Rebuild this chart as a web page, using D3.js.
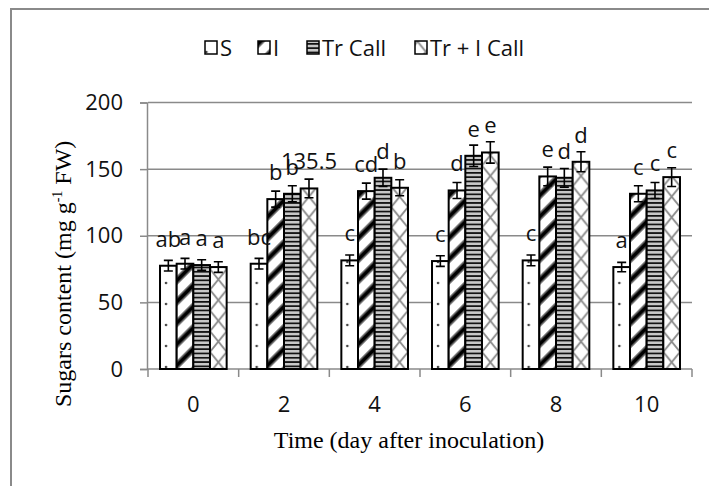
<!DOCTYPE html>
<html><head><meta charset="utf-8">
<script src="https://cdn.jsdelivr.net/npm/d3@7"></script>
<style>html,body{margin:0;padding:0;background:#fff;}</style>
</head><body>
<svg id="c" width="709" height="486"></svg>
<script>
const categories = ["0","2","4","6","8","10"];
const seriesNames = ["S","I","Tr Call","Tr + I Call"];
const valS   = [77.5, 79, 81.5, 81, 81.5, 76.5];
const valI   = [79, 127.5, 133.5, 134, 144.5, 131.5];
const valTr  = [78, 131.5, 143.5, 160, 143.5, 134];
const valTrI = [76.5, 135.5, 136, 162.5, 155.5, 144];
const errS   = [4, 4, 4, 4, 4, 3.5];
const errI   = [4, 6, 6, 6, 7, 6];
const errTr  = [4, 6, 6.5, 8, 7, 6];
const errTrI = [4, 7, 6, 8, 7.5, 7];
const labS   = ["ab","bc","c","c","c","a"];
const labI   = ["a","b","cd","d","e","c"];
const labTr  = ["a","b","d","e","d","c"];
const labTrI = ["a","135.5","b","e","d","c"];
const yTicks = [0,50,100,150,200];

const series = [
  {name: seriesNames[0], vals: valS, errs: errS, labs: labS, pat: "pS"},
  {name: seriesNames[1], vals: valI, errs: errI, labs: labI, pat: "pI"},
  {name: seriesNames[2], vals: valTr, errs: errTr, labs: labTr, pat: "pTr"},
  {name: seriesNames[3], vals: valTrI, errs: errTrI, labs: labTrI, pat: "pTrI"}
];

const svg = d3.select("#c");
const grey = "#8a8a8a";
const L = 148, R = 692, T = 102.5, B = 369;

// patterns
const defs = svg.append("defs");
const pS = defs.append("pattern").attr("id","pS").attr("patternUnits","userSpaceOnUse")
  .attr("width",16.7).attr("height",21);
pS.append("rect").attr("width",16.7).attr("height",21).attr("fill","#fff");
pS.append("circle").attr("cx",6).attr("cy",10).attr("r",1.3).attr("fill","#444");
const pI = defs.append("pattern").attr("id","pI").attr("patternUnits","userSpaceOnUse")
  .attr("width",15).attr("height",15).attr("patternTransform","rotate(45)");
pI.append("rect").attr("width",15).attr("height",15).attr("fill","#fff");
pI.append("rect").attr("x",0).attr("width",7).attr("height",15).attr("fill","#888");
pI.append("rect").attr("x",1.5).attr("width",4).attr("height",15).attr("fill","#000");
const pTr = defs.append("pattern").attr("id","pTr").attr("patternUnits","userSpaceOnUse")
  .attr("width",10).attr("height",4.3);
pTr.append("rect").attr("width",10).attr("height",4.3).attr("fill","#c8c8c8");
pTr.append("rect").attr("y",0).attr("width",10).attr("height",1.7).attr("fill","#111");
const pw = 16.7, ph = 20.7;
const pTrI = defs.append("pattern").attr("id","pTrI").attr("patternUnits","userSpaceOnUse")
  .attr("width",pw).attr("height",ph);
pTrI.append("rect").attr("width",pw).attr("height",ph).attr("fill","#fff");
pTrI.append("path").attr("d",`M0,0L${pw},${ph}M${pw},0L0,${ph}`)
  .attr("stroke","#8a8a8a").attr("stroke-width",1.8).attr("fill","none");

// outer frame
svg.append("rect").attr("x",11).attr("y",9).attr("width",720).attr("height",500)
  .attr("fill","none").attr("stroke",grey).attr("stroke-width",2);

const x0 = d3.scaleBand().domain(categories).range([L,R]).paddingInner(0.265).paddingOuter(0.1325);
const x1 = d3.scaleBand().domain(seriesNames).range([0,x0.bandwidth()]);
const y = d3.scaleLinear().domain([0,200]).range([B,T]);

// gridlines
svg.append("g").selectAll("line").data(yTicks.filter(d=>d>0)).join("line")
  .attr("x1",L).attr("x2",R).attr("y1",d=>y(d)).attr("y2",d=>y(d))
  .attr("stroke",grey).attr("stroke-width",1.5);

// y axis
const yAxis = svg.append("g").attr("transform",`translate(${L-1},0)`)
  .call(d3.axisLeft(y).tickValues(yTicks).tickSize(7).tickPadding(17));
yAxis.select(".domain").attr("stroke",grey).attr("stroke-width",1.5);
yAxis.selectAll(".tick line").attr("stroke",grey).attr("stroke-width",1.5);
yAxis.selectAll("text").attr("font-family","Open Sans").attr("font-size",22).attr("fill","#111");

// x axis: ticks at category boundaries
const bounds = d3.range(categories.length+1).map(i => L + i*x0.step());
const xg = svg.append("g");
xg.append("line").attr("x1",L).attr("x2",R).attr("y1",B).attr("y2",B)
  .attr("stroke",grey).attr("stroke-width",1.5);
xg.selectAll("line.t").data(bounds).join("line").attr("class","t")
  .attr("x1",d=>d).attr("x2",d=>d).attr("y1",B).attr("y2",B+8)
  .attr("stroke",grey).attr("stroke-width",1.5);
xg.selectAll("text").data(categories).join("text")
  .attr("x",d=>x0(d)+x0.bandwidth()/2).attr("y",412)
  .attr("text-anchor","middle").attr("font-family","Open Sans").attr("font-size",22).attr("fill","#111")
  .text(d=>d);

// bars
const bw = x1.bandwidth();
series.forEach(s => {
  const g = svg.append("g");
  const grp = g.selectAll("g").data(categories.map((c,i)=>({c, v:s.vals[i]})))
    .join("g").attr("transform",d=>`translate(${x0(d.c)+x1(s.name)},0)`);
  grp.append("rect").attr("x",0).attr("y",d=>y(d.v)).attr("width",bw).attr("height",d=>B-y(d.v))
    .attr("fill",`url(#${s.pat})`).attr("stroke","#000").attr("stroke-width",2);
});
// error bars and labels
series.forEach(s => {
  const g = svg.append("g");
  const data = categories.map((c,i)=>({c, v:s.vals[i], e:s.errs[i], l:s.labs[i], cx: x0(c)+x1(s.name)+bw/2}));
  g.selectAll("path").data(data).join("path")
    .attr("d",d=>{const a=y(d.v+d.e), b=y(d.v-d.e); return `M${d.cx},${a}V${b}M${d.cx-4.5},${a}H${d.cx+4.5}M${d.cx-4.5},${b}H${d.cx+4.5}`;})
    .attr("stroke","#000").attr("stroke-width",1.6).attr("fill","none");
  g.selectAll("text").data(data).join("text")
    .attr("x",d=>d.cx).attr("y",d=>y(d.v)-19).attr("text-anchor","middle")
    .attr("font-family","Open Sans").attr("font-size",22).attr("fill","#111").text(d=>d.l);
});

// legend
const legX = [205, 258, 307, 415];
const leg = svg.append("g");
series.forEach((s,i) => {
  leg.append("rect").attr("x",legX[i]).attr("y",41).attr("width",12).attr("height",13)
    .attr("fill",`url(#${s.pat})`).attr("stroke","#000").attr("stroke-width",1.5);
  leg.append("text").attr("x",legX[i]+15).attr("y",55.5).attr("font-family","Open Sans")
    .attr("font-size",22).attr("fill","#111").text(s.name);
});

// axis titles
svg.append("text").attr("x",409).attr("y",448).attr("text-anchor","middle")
  .attr("font-family","Liberation Serif").attr("font-size",24).attr("fill","#000")
  .text("Time (day after inoculation)");
const yt = svg.append("text").attr("transform","translate(71,407) rotate(-90)")
  .attr("font-family","Liberation Serif").attr("font-size",24).attr("fill","#000");
yt.append("tspan").text("Sugars content (mg g");
yt.append("tspan").attr("dy",-9).attr("font-size",14).text("-1");
yt.append("tspan").attr("dy",9).text(" FW)");
</script>
</body></html>
